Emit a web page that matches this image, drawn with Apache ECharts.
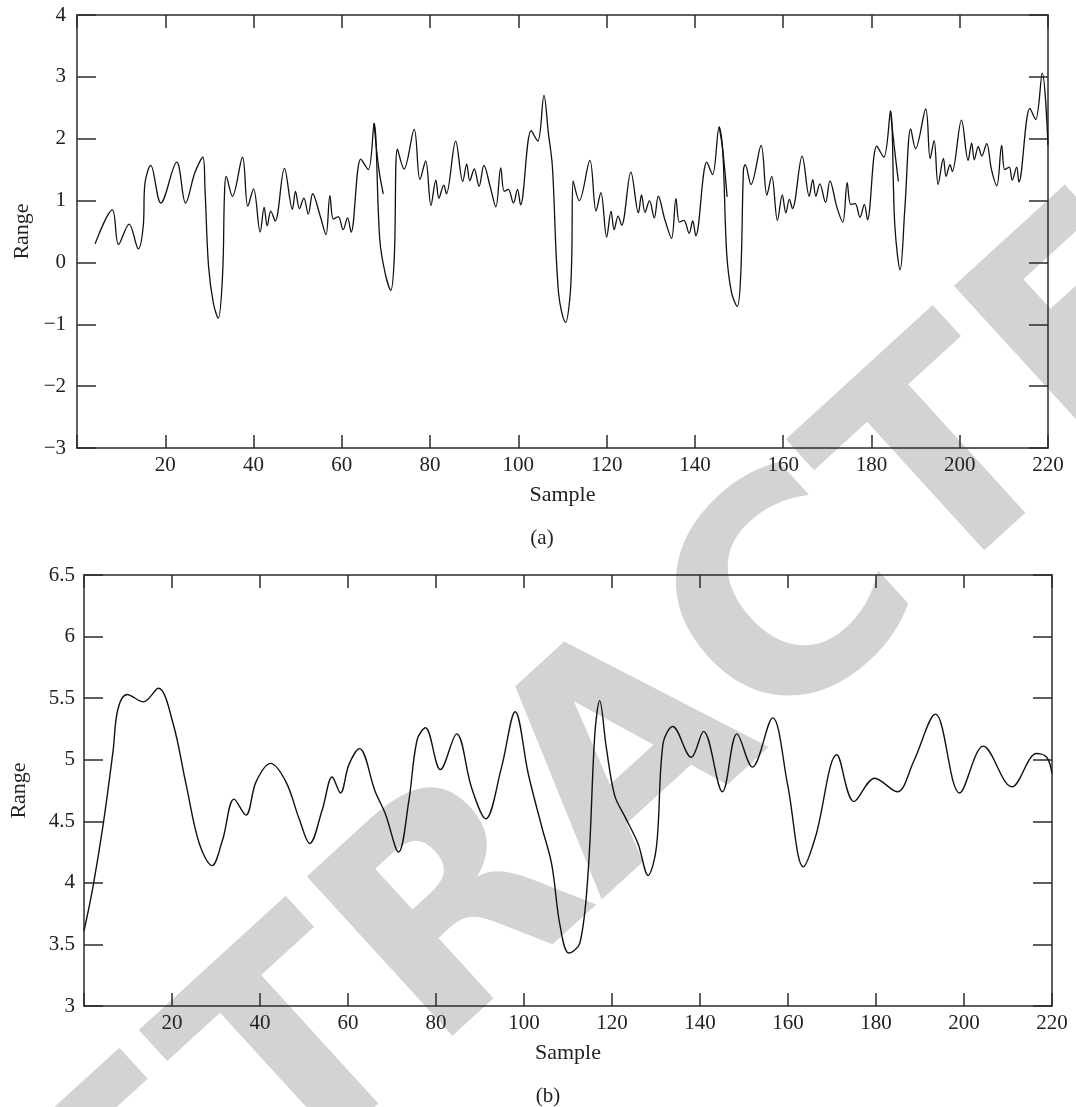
<!DOCTYPE html>
<html>
<head>
<meta charset="utf-8">
<script src="https://cdn.jsdelivr.net/npm/echarts@6/dist/echarts.min.js"></script>
<style>
html,body{margin:0;padding:0;background:#fff;}
#chart{width:1076px;height:1107px;}
</style>
</head>
<body>
<div id="chart"></div>
<script>
// ---------- data ----------
const xTicks = [20, 40, 60, 80, 100, 120, 140, 160, 180, 200, 220];
const yTicksA = [-3, -2, -1, 0, 1, 2, 3, 4];
const yTicksB = [3, 3.5, 4, 4.5, 5, 5.5, 6, 6.5];

// panel (a): [sample, range]
const panelA = [[4.1,0.30],[8.0,0.85],[9.4,0.29],[11.8,0.62],[13.9,0.22],[15.0,0.58],[15.4,1.28],[16.7,1.57],[19.0,0.96],[22.6,1.62],[24.6,0.96],[26.7,1.45],[28.5,1.70],[29.0,1.18],[29.8,-0.06],[30.9,-0.66],[32.0,-0.90],[33.0,-0.17],[33.4,1.07],[33.8,1.39],[35.2,1.07],[37.5,1.70],[38.7,0.91],[40.0,1.19],[41.5,0.49],[42.4,0.89],[43.1,0.59],[43.9,0.83],[44.9,0.67],[47.0,1.52],[48.8,0.86],[49.5,1.15],[50.4,0.87],[51.4,1.04],[52.4,0.78],[53.4,1.11],[55.1,0.75],[56.4,0.45],[57.3,1.08],[58.1,0.70],[59.2,0.74],[60.3,0.53],[61.3,0.72],[62.1,0.49],[64.3,1.67],[66.0,1.50],[67.3,2.25],[68.6,0.37],[69.8,-0.17],[71.1,-0.45],[71.9,0.10],[72.6,1.83],[74.1,1.51],[76.4,2.15],[77.7,1.34],[79.0,1.64],[80.2,0.92],[81.3,1.33],[82.0,1.04],[83.1,1.25],[83.7,1.11],[85.8,1.96],[87.4,1.31],[88.3,1.59],[89.0,1.32],[90.0,1.51],[91.1,1.23],[92.2,1.57],[93.6,1.23],[94.9,0.90],[96.0,1.53],[96.8,1.15],[97.7,1.18],[98.9,0.96],[99.8,1.18],[100.5,0.93],[102.9,2.13],[104.4,1.96],[105.8,2.70],[106.8,2.09],[107.7,1.56],[109.1,-0.49],[110.7,-0.97],[111.7,-0.55],[112.1,0.10],[112.4,1.32],[113.8,1.00],[116.2,1.65],[117.6,0.83],[118.7,1.13],[120.0,0.41],[121.0,0.83],[121.7,0.53],[122.6,0.75],[123.4,0.60],[125.5,1.46],[127.2,0.80],[127.9,1.09],[128.7,0.81],[129.7,1.00],[130.8,0.72],[131.7,1.07],[133.2,0.69],[134.7,0.39],[135.7,1.03],[136.5,0.65],[137.5,0.68],[138.7,0.47],[139.5,0.67],[140.2,0.43],[142.7,1.62],[144.0,1.42],[145.5,2.19],[146.3,1.82],[147.2,0.15],[148.3,-0.49],[149.6,-0.71],[150.4,-0.17],[151.0,1.50],[151.4,1.58],[152.7,1.26],[155.0,1.89],[156.3,1.09],[157.4,1.39],[158.7,0.68],[159.8,1.09],[160.6,0.80],[161.4,1.02],[162.1,0.87],[164.3,1.72],[165.9,1.07],[166.7,1.34],[167.4,1.07],[168.3,1.27],[169.6,0.97],[170.6,1.32],[172.1,0.91],[173.5,0.65],[174.5,1.29],[175.3,0.94],[176.3,0.95],[177.4,0.73],[178.4,0.94],[179.1,0.69],[181.2,1.88],[182.8,1.70],[184.3,2.45],[185.3,0.59],[186.5,-0.12],[187.6,0.91],[188.9,2.16],[190.0,1.84],[192.3,2.48],[193.3,1.68],[194.2,1.97],[195.1,1.26],[196.3,1.68],[196.9,1.39],[197.8,1.58],[198.3,1.47],[200.4,2.30],[201.9,1.65],[202.7,1.93],[203.3,1.66],[204.2,1.87],[205.0,1.72],[206.1,1.92],[207.2,1.50],[208.4,1.24],[209.5,1.89],[210.2,1.50],[211.2,1.54],[211.9,1.33],[212.9,1.54],[213.4,1.30],[215.9,2.49],[217.2,2.31],[218.7,3.06],[220.0,1.90]];

// short loose segments left after the peaks in panel (a)
const stubA1 = [[67.3,2.25],[68.4,1.50],[69.4,1.11]];
const stubA2 = [[145.5,2.19],[146.3,1.82],[147.3,1.06]];
const stubA3 = [[184.3,2.45],[185.2,1.85],[186.1,1.31]];

// panel (b): [sample, range]
const panelB = [[0,3.61],[2.0,3.96],[4.3,4.46],[6.6,5.07],[7.7,5.41],[9.8,5.53],[13.5,5.47],[16.9,5.58],[20.2,5.30],[23.2,4.80],[26.2,4.32],[29.1,4.14],[31.5,4.35],[34.1,4.68],[36.8,4.55],[39.1,4.82],[42.4,4.97],[45.9,4.82],[48.9,4.52],[51.3,4.32],[54.2,4.60],[56.4,4.86],[58.3,4.73],[60.2,4.96],[62.6,5.09],[66.2,4.74],[68.5,4.56],[71.5,4.25],[73.8,4.66],[75.7,5.16],[77.6,5.26],[81.0,4.92],[84.7,5.21],[88.1,4.77],[91.3,4.52],[94.9,4.94],[98.0,5.39],[101.0,4.88],[104.0,4.46],[106.3,4.15],[108.2,3.65],[110.2,3.43],[112.7,3.51],[114.6,4.10],[116.1,5.21],[117.2,5.48],[118.7,5.10],[120.6,4.71],[122.9,4.54],[125.9,4.32],[128.2,4.06],[130.1,4.29],[131.6,5.13],[133.8,5.27],[138.0,5.02],[140.8,5.23],[145.1,4.74],[148.4,5.21],[151.9,4.94],[156.5,5.34],[159.9,4.80],[163.5,4.13],[166.3,4.38],[171.1,5.04],[175.0,4.66],[179.7,4.85],[184.8,4.74],[188.6,4.99],[193.5,5.37],[199.0,4.73],[204.4,5.11],[210.9,4.78],[216.5,5.05],[218.8,5.02],[220.0,4.89]];

// ---------- chart ----------
const FONT = '"Liberation Serif", "Times New Roman", serif';
const AX = '#2b2b2b';
const minus = v => String(v).replace('-', '\u2212');

function xAxes(grid) {
  return [
    {
      type: 'value', gridIndex: grid, position: 'bottom', min: 0, max: 220, interval: 20,
      axisLine: { show: true, onZero: false, lineStyle: { color: AX, width: 1.5 } },
      axisTick: { show: true, inside: true, length: 13, lineStyle: { color: AX, width: 1.5 } },
      axisLabel: { color: '#222', fontFamily: FONT, fontSize: 21, margin: 7,
                   formatter: v => (xTicks.indexOf(v) >= 0 ? String(v) : '') },
      splitLine: { show: false },
      name: 'Sample', nameLocation: 'middle', nameGap: 36,
      nameTextStyle: { color: '#222', fontFamily: FONT, fontSize: 22 }
    },
    {
      type: 'value', gridIndex: grid, position: 'top', min: 0, max: 220, interval: 20,
      axisLine: { show: true, onZero: false, lineStyle: { color: AX, width: 1.5 } },
      axisTick: { show: true, inside: true, length: 13, lineStyle: { color: AX, width: 1.5 } },
      axisLabel: { show: false }, splitLine: { show: false }
    }
  ];
}

function yAxes(grid, min, max, interval, ticks, margin, gap) {
  return [
    {
      type: 'value', gridIndex: grid, position: 'left', min: min, max: max, interval: interval,
      axisLine: { show: true, onZero: false, lineStyle: { color: AX, width: 1.5 } },
      axisTick: { show: true, inside: true, length: 19, lineStyle: { color: AX, width: 1.5 } },
      axisLabel: { color: '#222', fontFamily: FONT, fontSize: 21, margin: margin,
                   formatter: v => (ticks.indexOf(v) >= 0 ? minus(v) : '') },
      splitLine: { show: false },
      name: 'Range', nameLocation: 'middle', nameGap: gap, nameRotate: 90,
      nameTextStyle: { color: '#222', fontFamily: FONT, fontSize: 22 }
    },
    {
      type: 'value', gridIndex: grid, position: 'right', min: min, max: max, interval: interval,
      axisLine: { show: true, onZero: false, lineStyle: { color: AX, width: 1.5 } },
      axisTick: { show: true, inside: true, length: 19, lineStyle: { color: AX, width: 1.5 } },
      axisLabel: { show: false }, splitLine: { show: false }
    }
  ];
}

function line(data, xi, yi, w) {
  return {
    type: 'line', xAxisIndex: xi, yAxisIndex: yi, data: data,
    showSymbol: false, symbol: 'none', smooth: 0.35, z: 3,
    lineStyle: { color: '#111', width: w }, silent: true
  };
}

const chart = echarts.init(document.getElementById('chart'), null, { renderer: 'canvas' });
chart.setOption({
  animation: false,
  backgroundColor: '#fff',
  title: [
    { text: '(a)', left: 537, top: 523, textAlign: 'center',
      textStyle: { fontFamily: FONT, fontSize: 21, fontWeight: 'normal', color: '#222' } },
    { text: '(b)', left: 543, top: 1081, textAlign: 'center',
      textStyle: { fontFamily: FONT, fontSize: 21, fontWeight: 'normal', color: '#222' } }
  ],
  graphic: [
    { type: 'text', x: 636, y: 764, rotation: 0.74, z: -10, silent: true,
      style: { text: 'RETRACTED', font: 'bold 296px "DejaVu Sans", sans-serif',
               fill: '#d3d3d3', align: 'center', verticalAlign: 'middle' } }
  ],
  grid: [
    { left: 77, right: 28, top: 15, height: 433 },
    { left: 81, right: 24, top: 575, height: 431 }
  ],
  xAxis: [].concat(xAxes(0), xAxes(1)),
  yAxis: [].concat(yAxes(0, -3, 4, 1, yTicksA, 11, 43), yAxes(1, 3, 6.5, 0.5, yTicksB, 9, 54)),
  series: [
    line(panelA, 0, 0, 1.3),
    line(stubA1, 0, 0, 1.3),
    line(stubA2, 0, 0, 1.3),
    line(stubA3, 0, 0, 1.3),
    line(panelB, 2, 2, 1.4)
  ]
});
</script>
</body>
</html>
